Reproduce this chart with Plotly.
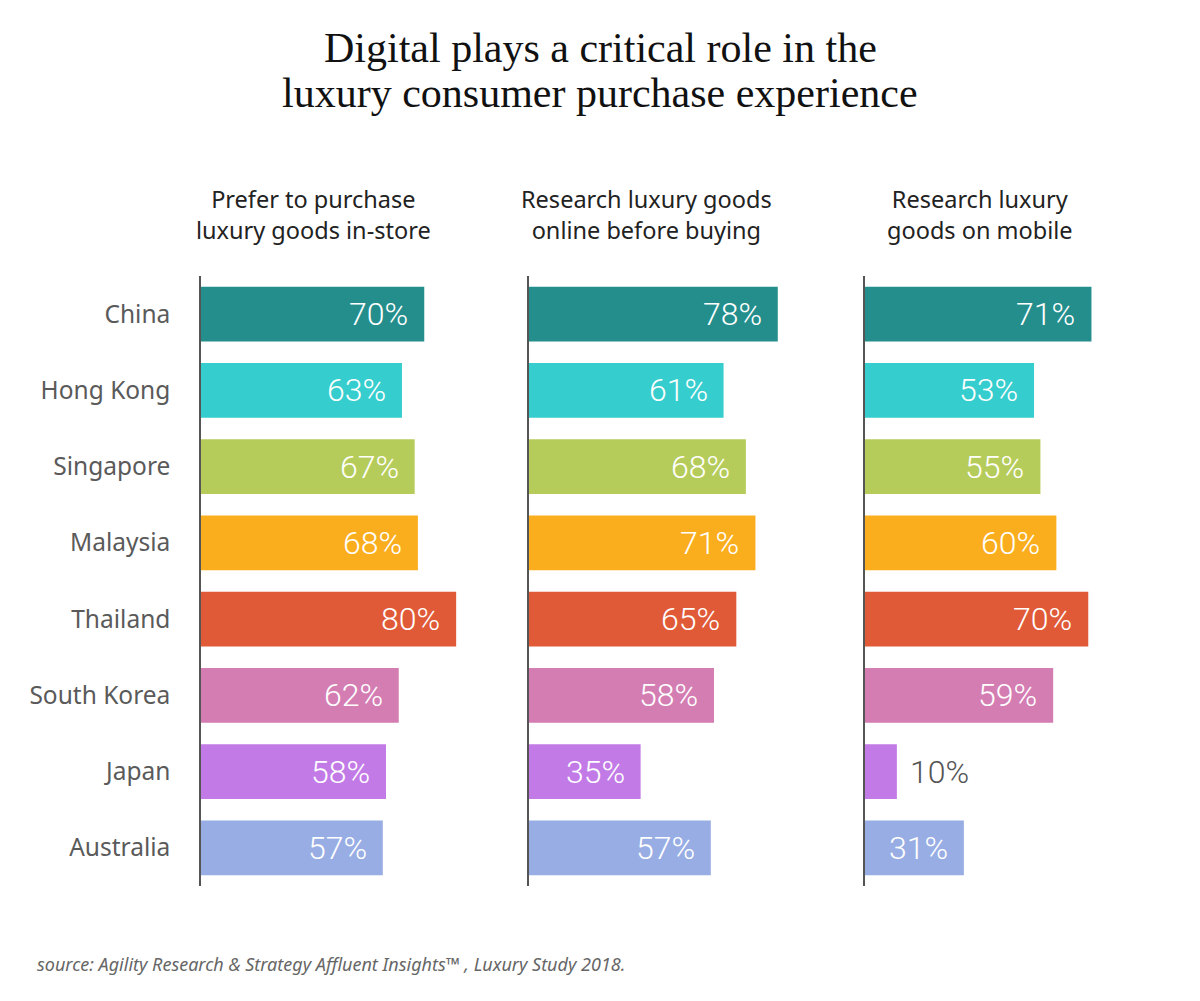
import plotly.graph_objects as go

countries = ["China", "Hong Kong", "Singapore", "Malaysia", "Thailand", "South Korea", "Japan", "Australia"]
colors = ["#238E8C", "#35CDCD", "#B6CC5A", "#FBAE1D", "#E05A37", "#D47DB3", "#C27BE6", "#97ADE3"]
headers = ["Prefer to purchase<br>luxury goods in-store",
           "Research luxury goods<br>online before buying",
           "Research luxury<br>goods on mobile"]
title_lines = ["Digital plays a critical role in the", "luxury consumer purchase experience"]
instore = [70, 63, 67, 68, 80, 62, 58, 57]
online = [78, 61, 68, 71, 65, 58, 35, 57]
mobile = [71, 53, 55, 60, 70, 59, 10, 31]
series = [instore, online, mobile]

OFF = 8  # default page body margin
W, H = 1200 - 2 * OFF, 1001 - 2 * OFF


def px(v):
    return (v - OFF) / W


def py(v):
    return 1 - (v - OFF) / H


x_domains = [(px(201), px(504)), (px(529), px(832)), (px(865), px(1168))]
y_domain = (py(886), py(276))

fig = go.Figure()
annotations = []
for i, vals in enumerate(series):
    xa = "x" if i == 0 else f"x{i+1}"
    ya = "y" if i == 0 else f"y{i+1}"
    fig.add_trace(go.Bar(
        x=vals, y=countries, orientation="h", marker=dict(color=colors, line=dict(width=0)),
        width=0.72, xaxis=xa, yaxis=ya, hoverinfo="skip", showlegend=False,
    ))
    for c, v in zip(countries, vals):
        inside = v >= 20
        annotations.append(dict(
            x=v, y=c, xref=xa, yref=ya, text=f"{v}%", showarrow=False,
            xanchor="right" if inside else "left", xshift=-14 if inside else 11,
            font=dict(family="Roboto", size=32, weight=300, color="white" if inside else "#555555"),
        ))
    annotations.append(dict(
        x=px([313, 646, 980][i]), y=py(214), xref="paper", yref="paper", text=headers[i],
        showarrow=False, xanchor="center", yanchor="middle",
        font=dict(family="Noto Sans", size=23.5, color="#222222"),
    ))

layout_axes = {}
for i in range(3):
    sx = "" if i == 0 else str(i + 1)
    layout_axes[f"xaxis{sx}"] = dict(domain=list(x_domains[i]), range=[0, 95], visible=False, fixedrange=True)
    layout_axes[f"yaxis{sx}"] = dict(
        domain=list(y_domain), range=[7.5, -0.5], type="category",
        categoryorder="array", categoryarray=countries,
        showline=True, linecolor="#555555", linewidth=1.5, showgrid=False, zeroline=False,
        showticklabels=(i == 0), ticks="", ticklabelstandoff=24 if i == 0 else 0,
        tickfont=dict(family="Noto Sans", size=24.5, color="#5a5a5a"),
        anchor="x" if i == 0 else f"x{i+1}",
    )

for line, yy in zip(title_lines, [48, 93]):
    annotations.append(dict(
        x=0.5, y=py(yy), xref="paper", yref="paper", text=line,
        showarrow=False, xanchor="center", yanchor="middle",
        font=dict(family="Liberation Serif", size=42, color="#111111"),
    ))
annotations.append(dict(
    x=px(35), y=py(964), xref="paper", yref="paper",
    text="<i>source: Agility Research &amp; Strategy Affluent Insights™ , Luxury Study 2018.</i>",
    showarrow=False, xanchor="left", yanchor="middle",
    font=dict(family="Noto Sans", size=18, color="#666666"),
))

fig.update_layout(
    width=W, height=H, margin=dict(l=0, r=0, t=0, b=0),
    paper_bgcolor="white", plot_bgcolor="white",
    annotations=annotations, bargap=0.28, **layout_axes,
)
fig.write_html("out.html")
